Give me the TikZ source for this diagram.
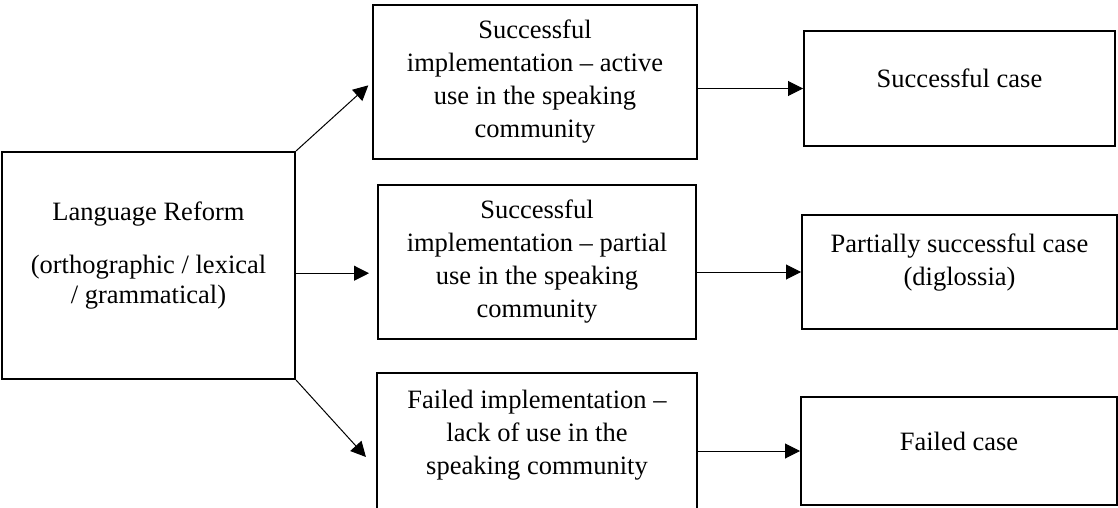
\documentclass[tikz,border=0pt]{standalone}
\usepackage{fontspec}
\setmainfont{Liberation Serif}
\usepackage{tikz}
\usetikzlibrary{arrows.meta,positioning}

\tikzset{
  box/.style={draw, line width=2pt, align=center, inner sep=0pt,
    font=\fontsize{26.5pt}{33pt}\selectfont},
  arr/.style={line width=1pt, -{Triangle[length=15pt,width=15pt]}}
}

\begin{document}
\begin{tikzpicture}[x=1pt,y=-1pt]
    \useasboundingbox (0,0) rectangle (1118,508);

    % Reform
    \node[box, minimum width=293, minimum height=227, text depth=26pt] (reform) at (148.5,265.5)
        {Language Reform\\[20pt] (orthographic / lexical\\[-3pt] / grammatical)};

    % Implementation outcomes
    \node[box, minimum width=324, minimum height=154] (impl1) at (535,82)
        {Successful\\ implementation -- active\\ use in the speaking\\ community};
    \node[box, minimum width=318, minimum height=154] (impl2) at (537,262)
        {Successful\\ implementation -- partial\\ use in the speaking\\ community};
    \node[box, minimum width=320, minimum height=162, text depth=44pt] (impl3) at (537,454)
        {Failed implementation --\\ lack of use in the\\ speaking community};

    % Cases
    \node[box, minimum width=311, minimum height=115, text depth=21pt] (case1) at (959.5,88.5)
        {Successful case};
    \node[box, minimum width=315, minimum height=114, text depth=24pt] (case2) at (959.5,272)
        {Partially successful case\\ (diglossia)};
    \node[box, minimum width=316, minimum height=108, text depth=20pt] (case3) at (959,451)
        {Failed case};

    % Arrows
    \draw[arr, shorten >=5pt] (reform.north east) -- (impl1.west);
    \draw[arr, shorten >=8pt] (reform.-3) -- (reform.-3 -| impl2.west);
    \draw[arr, shorten >=15pt] (reform.south east) -- (impl3.185);
    \draw[arr] (impl1.east |- case1.west) -- (case1.west);
    \draw[arr] (impl2.east |- case2.west) -- (case2.west);
    \draw[arr] (impl3.east |- case3.west) -- (case3.west);
\end{tikzpicture}
\end{document}
